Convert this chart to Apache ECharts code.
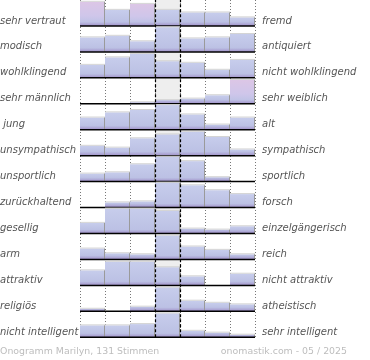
<!DOCTYPE html>
<html>
<head>
<meta charset="utf-8">
<script src="https://cdn.jsdelivr.net/npm/echarts@6/dist/echarts.min.js"></script>
<style>html,body{margin:0;padding:0;background:#fff}#c{width:370px;height:360px}</style>
</head>
<body>
<div id="c"></div>
<script>
// Left and right pole labels of each row
const leftLabels = ['sehr vertraut','modisch','wohlklingend','sehr männlich',' jung','unsympathisch','unsportlich','zurückhaltend','gesellig','arm','attraktiv','religiös','nicht intelligent'];
const rightLabels = ['fremd','antiquiert','nicht wohlklingend','sehr weiblich','alt','sympathisch','sportlich','forsch','einzelgängerisch','reich','nicht attraktiv','atheistisch','sehr intelligent'];
// Bar heights per row (percent of row height), 7 scale steps
const row1 = [93, 62, 85, 62, 52, 52, 33];
const row2 = [56, 62, 41, 95, 52, 56, 69];
const row3 = [50, 79, 92, 64, 58, 31, 69];
const row4 = [0, 0, 6, 14, 20, 33, 92];
const row5 = [47, 67, 76, 95, 59, 20, 47];
const row6 = [38, 31, 67, 82, 92, 72, 24];
const row7 = [31, 36, 67, 96, 79, 17, 0];
const row8 = [0, 20, 24, 96, 86, 67, 52];
const row9 = [41, 96, 96, 87, 19, 15, 28];
const row10 = [42, 24, 20, 92, 50, 37, 20];
const row11 = [58, 91, 91, 70, 35, 0, 45];
const row12 = [10, 0, 18, 92, 41, 33, 27];
const row13 = [46, 46, 51, 92, 25, 18, 10];
const rows = [row1,row2,row3,row4,row5,row6,row7,row8,row9,row10,row11,row12,row13];
// highlighted (pink) bars: [row, step]
const highlighted = [[0,0],[0,2],[3,6]];
const footerLeft = 'Onogramm Marilyn, 131 Stimmen';
const footerRight = 'onomastik.com - 05 / 2025';

const N = rows.length;
const isHi = (r,c) => highlighted.some(h => h[0]===r && h[1]===c);

function renderRow(params, api) {
  const r = api.value(0);
  const base = N - 1 - r;
  const children = [];
  const vals = rows[r];
  for (let c = 0; c < 7; c++) {
    const v = vals[c];
    if (!v) continue;
    const p0 = api.coord([c, base]);
    const p1 = api.coord([c + 1, base + v / 100]);
    const x = p0[0], y = p1[1], w = p1[0] - p0[0], h = p0[1] - p1[1];
    const band = Math.min(1, 4 / h);
    const hi = isHi(r, c);
    const stops = hi ? [
      {offset: 0, color: '#dcc6e6'},
      {offset: Math.max(0, 1 - band - 0.25), color: '#cfc6ea'},
      {offset: Math.max(0, 1 - band), color: '#c0c3e6'},
      {offset: 1, color: '#a090c8'}
    ] : [
      {offset: 0, color: '#c7cdec'},
      {offset: Math.max(0, 1 - band), color: '#bcc1e4'},
      {offset: 1, color: '#a090c8'}
    ];
    children.push({
      type: 'rect',
      shape: {x: x, y: y, width: w, height: h},
      style: {fill: new echarts.graphic.LinearGradient(0, 0, 0, 1, stops)}
    });
    children.push({
      type: 'line',
      shape: {x1: x, y1: y - 0.5, x2: x + w, y2: y - 0.5},
      style: {stroke: '#d4d4d4', lineWidth: 1}
    });
    children.push({
      type: 'line',
      shape: {x1: x + w - 0.5, y1: y, x2: x + w - 0.5, y2: p0[1]},
      style: {stroke: '#9a9a9a', lineWidth: 1}
    });
  }
  const b0 = api.coord([0, base]);
  const b1 = api.coord([7, base]);
  children.push({
    type: 'line',
    shape: {x1: b0[0], y1: b0[1], x2: b1[0], y2: b1[1]},
    style: {stroke: '#000', lineWidth: 1.5}
  });
  return {type: 'group', children: children};
}

function renderLabels(params, api) {
  const r = api.value(0);
  const base = N - 1 - r;
  const b0 = api.coord([0, base]);
  const b1 = api.coord([7, base]);
  const font = 'italic 10px "DejaVu Sans"';
  return {type: 'group', children: [
    {type: 'text', style: {text: leftLabels[r], x: 0, y: b0[1] - 5, align: 'left', verticalAlign: 'middle', font: font, fill: '#555'}},
    {type: 'text', style: {text: rightLabels[r], x: b1[0] + 7, y: b1[1] - 5, align: 'left', verticalAlign: 'middle', font: font, fill: '#555'}}
  ]};
}

const rowIdx = rows.map((_, i) => [i]);
const chart = echarts.init(document.getElementById('c'), null, {renderer: 'canvas'});
chart.setOption({
  animation: false,
  grid: {left: 80, top: -0.7, width: 175, height: 338},
  xAxis: {
    type: 'value', min: 0, max: 7, interval: 1,
    axisLine: {show: false}, axisTick: {show: false}, axisLabel: {show: false},
    splitLine: {show: true, lineStyle: {type: [1, 2], color: '#777', width: 1}},
    splitArea: {show: true, areaStyle: {color: ['rgba(0,0,0,0)','rgba(0,0,0,0)','rgba(0,0,0,0)','#eeeeee','rgba(0,0,0,0)','rgba(0,0,0,0)','rgba(0,0,0,0)']}}
  },
  yAxis: {
    type: 'value', min: 0, max: N, interval: 1,
    axisLine: {show: false}, axisTick: {show: false}, axisLabel: {show: false},
    splitLine: {show: false}
  },
  series: [
    {type: 'custom', renderItem: renderRow, data: rowIdx, clip: false, z: 2,
     markLine: {silent: true, symbol: 'none', label: {show: false}, z: 5,
       lineStyle: {color: '#000', type: [3, 2], width: 1.2},
       data: [{xAxis: 3}, {xAxis: 4}]}},
    {type: 'custom', renderItem: renderLabels, data: rowIdx, clip: false, z: 3}
  ],
  graphic: [
    {type: 'text', left: 0, top: 347, style: {text: footerLeft, font: '9.4px "DejaVu Sans"', fill: '#bdbdbd'}},
    {type: 'text', right: 23, top: 347, style: {text: footerRight, font: '9.4px "DejaVu Sans"', fill: '#bdbdbd'}}
  ]
});
</script>
</body>
</html>
